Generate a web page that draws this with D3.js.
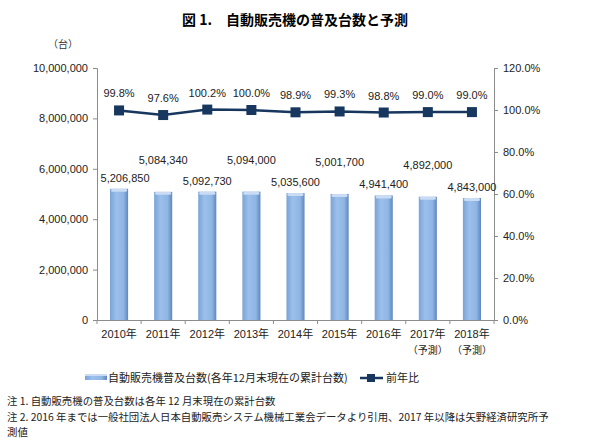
<!DOCTYPE html>
<html>
<head>
<meta charset="utf-8">
<script src="https://cdn.jsdelivr.net/npm/d3@7"></script>
<style>
body { margin: 0; background: #fff; }
text { font-family: "Liberation Sans", "Noto Sans CJK JP", sans-serif; }
.cjk { font-family: "Noto Sans CJK JP", sans-serif; }
</style>
</head>
<body>
<script>
// data
var years = ["2010年", "2011年", "2012年", "2013年", "2014年", "2015年", "2016年", "2017年", "2018年"];
var subLabels = ["", "", "", "", "", "", "", "（予測）", "（予測）"];
var units = [5206850, 5084340, 5092730, 5094000, 5035600, 5001700, 4941400, 4892000, 4843000];
var ratio = [99.8, 97.6, 100.2, 100.0, 98.9, 99.3, 98.8, 99.0, 99.0];
var leftTicks = [0, 2000000, 4000000, 6000000, 8000000, 10000000];
var rightTicks = [0, 20, 40, 60, 80, 100, 120];

var W = 590, H = 446;
var svg = d3.select("body").append("svg")
	.attr("width", W)
	.attr("height", H);

var plot = {left: 97, right: 494, top: 68, bottom: 320};

//gradient for the cylinder-ish bars
var defs = svg.append("defs");
var grad = defs.append("linearGradient").attr("id", "barGrad")
	.attr("x1", "0%").attr("x2", "100%").attr("y1", "0%").attr("y2", "0%");
grad.append("stop").attr("offset", "0%").attr("stop-color", "#7aa3d6");
grad.append("stop").attr("offset", "35%").attr("stop-color", "#9cc0ec");
grad.append("stop").attr("offset", "75%").attr("stop-color", "#8fb5e4");
grad.append("stop").attr("offset", "100%").attr("stop-color", "#5f87bb");

var x = d3.scaleBand()
	.domain(years)
	.range([plot.left, plot.right])
	.paddingInner(0.59)
	.paddingOuter(0.295);

var yL = d3.scaleLinear().domain([0, 10000000]).range([plot.bottom, plot.top]);
var yR = d3.scaleLinear().domain([0, 120]).range([plot.bottom, plot.top]);

// title
svg.append("text")
	.attr("class", "cjk")
	.attr("x", 295).attr("y", 25)
	.attr("text-anchor", "middle")
	.style("font-size", "14px")
	.style("font-weight", "bold")
	.text("図 1.　自動販売機の普及台数と予測");

svg.append("text")
	.attr("class", "cjk")
	.attr("x", 63).attr("y", 48)
	.attr("text-anchor", "middle")
	.style("font-size", "10px")
	.attr("fill", "#333")
	.text("（台）");

// axes
var axisL = d3.axisLeft(yL).tickValues(leftTicks).tickFormat(d3.format(",")).tickSize(4);
var gL = svg.append("g").attr("transform", "translate(" + plot.left + ",0)").call(axisL);

var axisR = d3.axisRight(yR).tickValues(rightTicks).tickFormat(function(d){ return d.toFixed(1) + "%"; }).tickSize(4);
var gR = svg.append("g").attr("transform", "translate(" + plot.right + ",0)").call(axisR);

var axisX = d3.axisBottom(x).tickSize(0).tickFormat("");
var gX = svg.append("g").attr("transform", "translate(0," + plot.bottom + ")").call(axisX);

[gL, gR, gX].forEach(function(g){
	g.select(".domain").attr("stroke", "#8c8c8c");
	g.selectAll(".tick line").attr("stroke", "#8c8c8c");
	g.selectAll(".tick text").attr("fill", "#222").style("font-size", "11px");
});
gL.selectAll(".tick text").attr("x", -9);
gR.selectAll(".tick text").attr("x", 9);

// x tick marks between categories
var step = x.step();
var bounds = d3.range(years.length + 1).map(function(i){ return plot.left + i * step; });
svg.append("g").selectAll("line").data(bounds).enter().append("line")
	.attr("x1", function(d){ return d; }).attr("x2", function(d){ return d; })
	.attr("y1", plot.bottom).attr("y2", plot.bottom + 4)
	.attr("stroke", "#8c8c8c");

// x labels
svg.append("g").selectAll("text").data(years).enter().append("text")
	.attr("x", function(d){ return x(d) + x.bandwidth() / 2; })
	.attr("y", 338)
	.attr("text-anchor", "middle")
	.style("font-size", "11px")
	.attr("fill", "#222")
	.text(function(d){ return d; });

svg.append("g").selectAll("text").data(subLabels).enter().append("text")
	.attr("class", "cjk")
	.attr("x", function(d, i){ return x(years[i]) + x.bandwidth() / 2; })
	.attr("y", 354)
	.attr("text-anchor", "middle")
	.style("font-size", "10px")
	.attr("fill", "#222")
	.text(function(d){ return d; });

// bars
svg.append("g").selectAll("rect").data(units).enter().append("rect")
	.attr("x", function(d, i){ return x(years[i]); })
	.attr("y", function(d){ return yL(d); })
	.attr("width", x.bandwidth())
	.attr("height", function(d){ return plot.bottom - yL(d); })
	.attr("fill", "url(#barGrad)");

// bar top caps
svg.append("g").selectAll("ellipse").data(units).enter().append("rect")
	.attr("x", function(d, i){ return x(years[i]) + 1; })
	.attr("y", function(d){ return yL(d); })
	.attr("width", x.bandwidth() - 2)
	.attr("height", 3)
	.attr("rx", 1.5)
	.attr("fill", "#c9dcf4");

// bar value labels, alternating heights (first one nudged off the axis)
svg.append("g").selectAll("text").data(units).enter().append("text")
	.attr("x", function(d, i){ return x(years[i]) + x.bandwidth() / 2 + (i === 0 ? 6 : 0); })
	.attr("y", function(d, i){ return yL(d) - (i % 2 ? 28 : 7); })
	.attr("text-anchor", "middle")
	.style("font-size", "11px")
	.attr("fill", "#222")
	.text(function(d){ return d3.format(",")(d); });

// line
var line = d3.line()
	.x(function(d, i){ return x(years[i]) + x.bandwidth() / 2; })
	.y(function(d){ return yR(d); });

svg.append("path")
	.attr("d", line(ratio))
	.attr("fill", "none")
	.attr("stroke", "#17375e")
	.attr("stroke-width", 2.5);

svg.append("g").selectAll("rect").data(ratio).enter().append("rect")
	.attr("x", function(d, i){ return x(years[i]) + x.bandwidth() / 2 - 5; })
	.attr("y", function(d){ return yR(d) - 5; })
	.attr("width", 10).attr("height", 10)
	.attr("fill", "#17375e");

svg.append("g").selectAll("text").data(ratio).enter().append("text")
	.attr("x", function(d, i){ return x(years[i]) + x.bandwidth() / 2; })
	.attr("y", function(d){ return yR(d) - 13; })
	.attr("text-anchor", "middle")
	.style("font-size", "11px")
	.attr("fill", "#222")
	.text(function(d){ return d.toFixed(1) + "%"; });

// legend
var leg = svg.append("g");
leg.append("rect").attr("x", 85).attr("y", 374).attr("width", 22).attr("height", 6).attr("fill", "url(#barGrad)");
leg.append("rect").attr("x", 85).attr("y", 374).attr("width", 22).attr("height", 2).attr("fill", "#c9dcf4");
leg.append("text").attr("class", "cjk").attr("x", 108).attr("y", 382)
	.style("font-size", "11px").attr("fill", "#222")
	.text("自動販売機普及台数(各年12月末現在の累計台数)");
leg.append("line").attr("x1", 360).attr("x2", 383).attr("y1", 378).attr("y2", 378)
	.attr("stroke", "#17375e").attr("stroke-width", 2.5);
leg.append("rect").attr("x", 367).attr("y", 374).attr("width", 8).attr("height", 8).attr("fill", "#17375e");
leg.append("text").attr("class", "cjk").attr("x", 386).attr("y", 382)
	.style("font-size", "11px").attr("fill", "#222")
	.text("前年比");

// notes
var notes = [
	"注 1.  自動販売機の普及台数は各年 12 月末現在の累計台数",
	"注 2.  2016 年までは一般社団法人日本自動販売システム機械工業会データより引用、2017 年以降は矢野経済研究所予",
	"測値"
];
svg.append("g").selectAll("text").data(notes).enter().append("text")
	.attr("class", "cjk")
	.attr("x", 7)
	.attr("y", function(d, i){ return 405 + i * 15.5; })
	.style("font-size", "10.4px")
	.attr("fill", "#222")
	.text(function(d){ return d; });
</script>
</body>
</html>
